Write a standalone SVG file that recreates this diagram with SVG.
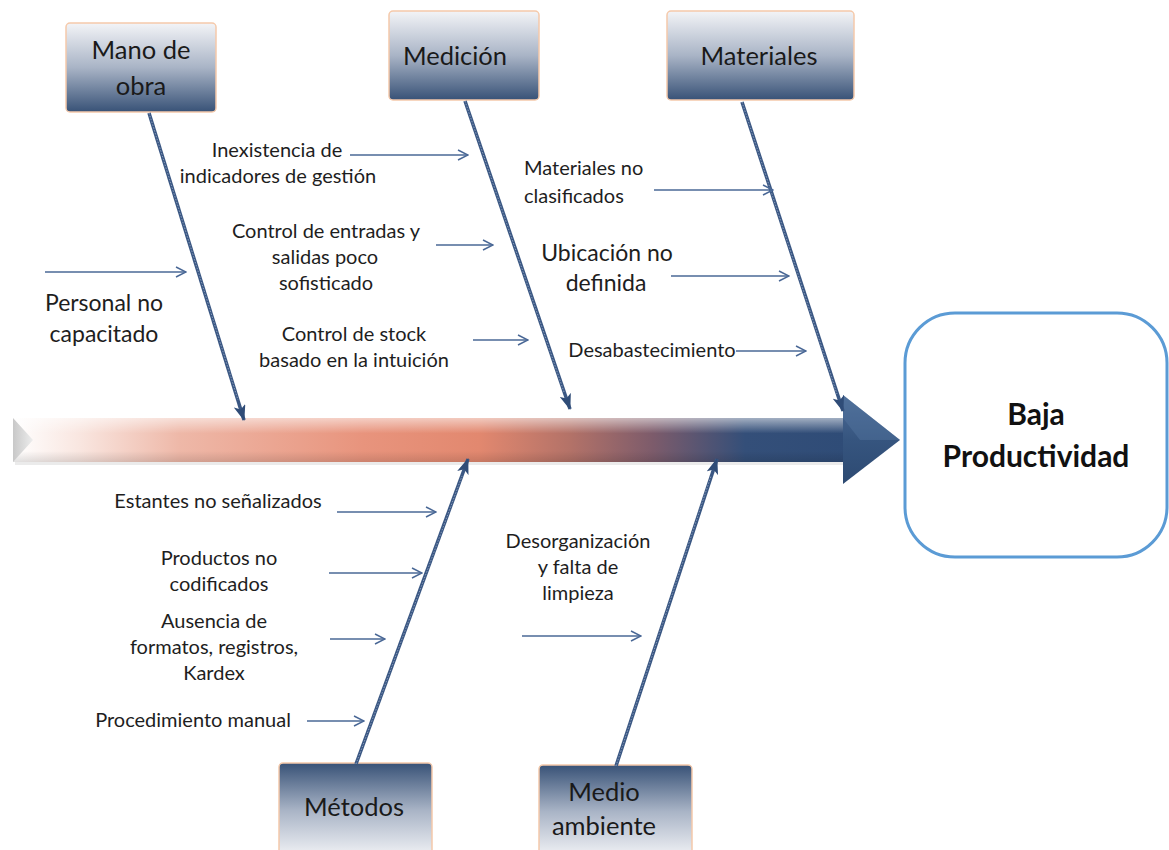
<svg xmlns="http://www.w3.org/2000/svg" width="1169" height="850" viewBox="0 0 1169 850">
<style>
.lbl{font-family:Lato,"Liberation Sans",sans-serif;font-size:20px;fill:#1e1e1e;text-anchor:middle}
.big{font-size:23px}
.cat{font-family:Lato,"Liberation Sans",sans-serif;font-size:25.5px;fill:#1a1a1a;text-anchor:middle}
.box{stroke:#F5C9AA;stroke-width:1.5}
.bone{stroke:#3A5783;stroke-width:3.5;fill:none}
.bonein{stroke:#9AABC6;stroke-width:0.8;fill:none;stroke-dasharray:1.5 1.5}
.cause{stroke:#4A6896;stroke-width:1.5;fill:none;marker-end:url(#open)}
</style>
<defs>
<linearGradient id="gDown" x1="0" y1="0" x2="0" y2="1">
<stop offset="0" stop-color="#F3F4F7"/><stop offset="0.5" stop-color="#A9B4C6"/><stop offset="1" stop-color="#385277"/>
</linearGradient>
<linearGradient id="gUp" x1="0" y1="1" x2="0" y2="0">
<stop offset="0" stop-color="#F3F4F7"/><stop offset="0.5" stop-color="#A9B4C6"/><stop offset="1" stop-color="#385277"/>
</linearGradient>
<linearGradient id="gShaft" gradientUnits="userSpaceOnUse" x1="13" y1="0" x2="845" y2="0">
<stop offset="0" stop-color="#FFFFFF"/>
<stop offset="0.08" stop-color="#F9E6E0"/>
<stop offset="0.2" stop-color="#EEB8A8"/>
<stop offset="0.42" stop-color="#E8947D"/>
<stop offset="0.56" stop-color="#E2886F"/>
<stop offset="0.67" stop-color="#B37268"/>
<stop offset="0.77" stop-color="#7C5B6B"/>
<stop offset="0.88" stop-color="#344F79"/>
<stop offset="1" stop-color="#2F4C77"/>
</linearGradient>
<linearGradient id="gGloss" x1="0" y1="0" x2="0" y2="1">
<stop offset="0" stop-color="#FFFFFF" stop-opacity="0.55"/>
<stop offset="0.35" stop-color="#FFFFFF" stop-opacity="0"/>
<stop offset="0.75" stop-color="#000000" stop-opacity="0"/>
<stop offset="1" stop-color="#000000" stop-opacity="0.12"/>
</linearGradient>
<linearGradient id="gHead" x1="0" y1="0" x2="0" y2="1">
<stop offset="0" stop-color="#4C6C97"/><stop offset="0.5" stop-color="#36557F"/><stop offset="1" stop-color="#2D4A72"/>
</linearGradient>
<linearGradient id="gTail" x1="0" y1="0" x2="1" y2="0">
<stop offset="0" stop-color="#C8C8C8"/><stop offset="1" stop-color="#EDEDED"/>
</linearGradient>
<marker id="open" viewBox="0 0 12 12" refX="11" refY="6" markerWidth="12" markerHeight="12" markerUnits="userSpaceOnUse" orient="auto">
<path d="M1,1 L11,6 L1,11" fill="none" stroke="#4A6896" stroke-width="1.5"/>
</marker>
<marker id="bonehead" viewBox="0 0 16 12" refX="15" refY="6" markerWidth="16" markerHeight="12" markerUnits="userSpaceOnUse" orient="auto">
<path d="M0,0 L16,6 L0,12 L4,6 z" fill="#2F4C77"/>
</marker>
</defs>
<rect width="1169" height="850" fill="#FFFFFF"/>

<g id="spine">
<rect x="15" y="421" width="830" height="44" fill="#000" opacity="0.08"/>
<rect x="13" y="418" width="832" height="44" fill="url(#gShaft)"/>
<rect x="13" y="418" width="832" height="44" fill="url(#gGloss)"/>
<polygon points="13,418 33,440 13,462" fill="url(#gTail)"/>
<polygon points="843,395 900,440 843,484" fill="url(#gHead)"/>
<polygon points="843,395 900,440 860,440 843,418" fill="#5575A0" opacity="0.45"/>
</g>

<g id="effect">
<rect x="905" y="313" width="262" height="244" rx="50" fill="#FFFFFF" stroke="#5B9BD5" stroke-width="3"/>
<text x="1036" y="425" font-family="Lato,'Liberation Sans',sans-serif" font-size="30" font-weight="bold" fill="#111" text-anchor="middle">Baja</text>
<text x="1036" y="467" font-family="Lato,'Liberation Sans',sans-serif" font-size="30" font-weight="bold" fill="#111" text-anchor="middle">Productividad</text>
</g>

<g id="cat-mano">
<rect class="box" x="66" y="23" width="150" height="89" rx="4" fill="url(#gDown)"/>
<text class="cat" x="141" y="59">Mano de</text>
<text class="cat" x="141" y="95">obra</text>
</g>
<g id="cat-medicion">
<rect class="box" x="389" y="11" width="150" height="89" rx="4" fill="url(#gDown)"/>
<text class="cat" x="455" y="65">Medición</text>
</g>
<g id="cat-materiales">
<rect class="box" x="667" y="11" width="187" height="89" rx="4" fill="url(#gDown)"/>
<text class="cat" x="759" y="65">Materiales</text>
</g>
<g id="cat-metodos">
<rect class="box" x="279" y="763" width="153" height="95" rx="4" fill="url(#gUp)"/>
<text class="cat" x="354" y="816">Métodos</text>
</g>
<g id="cat-medio">
<rect class="box" x="539" y="765" width="153" height="93" rx="4" fill="url(#gUp)"/>
<text class="cat" x="604" y="801">Medio</text>
<text class="cat" x="604" y="835">ambiente</text>
</g>

<g id="connectors">
<line class="bone" x1="149" y1="113" x2="244" y2="420" marker-end="url(#bonehead)"/>
<line class="bone" x1="465" y1="101" x2="570" y2="409" marker-end="url(#bonehead)"/>
<line class="bone" x1="742" y1="102" x2="843" y2="411" marker-end="url(#bonehead)"/>
<line class="bone" x1="356" y1="764" x2="468" y2="459" marker-end="url(#bonehead)"/>
<line class="bone" x1="616" y1="766" x2="717" y2="459" marker-end="url(#bonehead)"/>
<line class="bonein" x1="149" y1="113" x2="238" y2="400"/>
<line class="bonein" x1="465" y1="101" x2="564" y2="392"/>
<line class="bonein" x1="742" y1="102" x2="837" y2="394"/>
<line class="bonein" x1="356" y1="764" x2="462" y2="476"/>
<line class="bonein" x1="616" y1="766" x2="711" y2="476"/>

<line class="cause" x1="45" y1="272" x2="186" y2="272"/>
<line class="cause" x1="350" y1="155" x2="468" y2="155"/>
<line class="cause" x1="436" y1="245" x2="493" y2="245"/>
<line class="cause" x1="473" y1="340" x2="528" y2="340"/>
<line class="cause" x1="654" y1="190" x2="773" y2="190"/>
<line class="cause" x1="671" y1="276" x2="789" y2="276"/>
<line class="cause" x1="736" y1="351" x2="806" y2="351"/>
<line class="cause" x1="337" y1="512" x2="436" y2="512"/>
<line class="cause" x1="329" y1="573" x2="422" y2="573"/>
<line class="cause" x1="330" y1="639" x2="385" y2="639"/>
<line class="cause" x1="307" y1="721" x2="364" y2="721"/>
<line class="cause" x1="522" y1="636" x2="641" y2="636"/>
</g>

<g id="causes">
<text class="lbl big" x="104" y="311">Personal no</text>
<text class="lbl big" x="104" y="342">capacitado</text>
<text class="lbl" x="277" y="157">Inexistencia de</text>
<text class="lbl" x="278" y="183">indicadores de gestión</text>
<text class="lbl" x="326" y="238">Control de entradas y</text>
<text class="lbl" x="325" y="264">salidas poco</text>
<text class="lbl" x="326" y="290">sofisticado</text>
<text class="lbl" x="354" y="341">Control de stock</text>
<text class="lbl" x="354" y="367">basado en la intuición</text>
<text class="lbl" x="524" y="175" style="text-anchor:start">Materiales no</text>
<text class="lbl" x="524" y="203" style="text-anchor:start">clasificados</text>
<text class="lbl big" x="607" y="261">Ubicación no</text>
<text class="lbl big" x="606" y="291">definida</text>
<text class="lbl" x="652" y="357">Desabastecimiento</text>
<text class="lbl" x="218" y="508">Estantes no señalizados</text>
<text class="lbl" x="219" y="565">Productos no</text>
<text class="lbl" x="219" y="591">codificados</text>
<text class="lbl" x="214" y="628">Ausencia de</text>
<text class="lbl" x="214" y="654">formatos, registros,</text>
<text class="lbl" x="214" y="680">Kardex</text>
<text class="lbl" x="193" y="727">Procedimiento manual</text>
<text class="lbl" x="578" y="548">Desorganización</text>
<text class="lbl" x="578" y="574">y falta de</text>
<text class="lbl" x="578" y="600">limpieza</text>
</g>
</svg>
